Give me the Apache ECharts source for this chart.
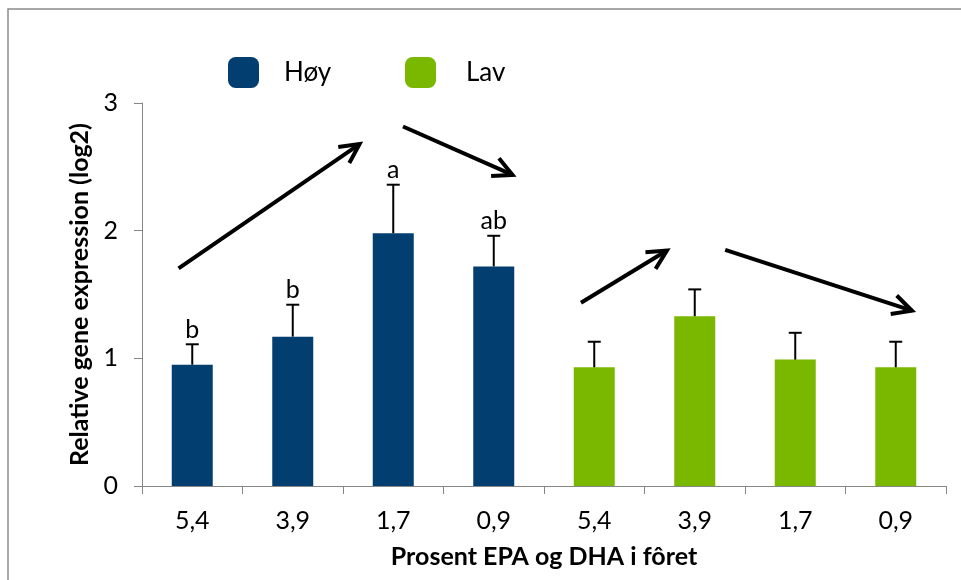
<!DOCTYPE html>
<html>
<head>
<meta charset="utf-8">
<script src="https://cdn.jsdelivr.net/npm/echarts@6/dist/echarts.min.js"></script>
<style>
html,body{margin:0;padding:0;background:#fff;}
#chart{width:961px;height:580px;}
</style>
</head>
<body>
<div id="chart"></div>
<script>
// ---- data ----
const categories = ['5,4', '3,9', '1,7', '0,9', '5,4', '3,9', '1,7', '0,9'];
const seriesNames = ['Høy', 'Lav'];
const hoyValues = [0.95, 1.17, 1.98, 1.72, '-', '-', '-', '-'];
const lavValues = ['-', '-', '-', '-', 0.93, 1.33, 0.99, 0.93];
const hoyErrors = [0.16, 0.25, 0.38, 0.24];
const lavErrors = [0.20, 0.21, 0.21, 0.20];
const sigLetters = ['b', 'b', 'a', 'ab', '', '', '', ''];
// trend arrows: [xStart, yStart, xEnd, yEnd] in (category index, value) units
const trendArrows = [
  [-0.136, 1.705, 1.665, 2.678],
  [2.097, 2.816, 3.187, 2.437],
  [3.868, 1.436, 4.723, 1.844],
  [5.303, 1.849, 7.161, 1.373]
];
const yTicks = { min: 0, max: 3, interval: 1 };

// ---- build ----
const means = categories.map((c, i) => i < 4 ? hoyValues[i] : lavValues[i]);
const errs = hoyErrors.concat(lavErrors);
const errData = means.map((m, i) => [i, m, errs[i]]);

const FONT = 'Lato';
const axisGray = '#868686';
const blue = '#023f70';
const green = '#7ab800';

const chart = echarts.init(document.getElementById('chart'), null, { renderer: 'canvas' });
chart.setOption({
  backgroundColor: '#ffffff',
  animation: false,
  textStyle: { fontFamily: FONT },
  graphic: [{
    type: 'rect', z: -10, silent: true,
    shape: { x: 8, y: 9, width: 1000, height: 1000 },
    style: { fill: 'none', stroke: '#8c8c8c', lineWidth: 1.5 }
  }],
  legend: [
    { data: [seriesNames[0]], left: 223, top: 52, itemWidth: 31, itemHeight: 31, icon: 'roundRect',
      textStyle: { fontFamily: FONT, fontSize: 26, color: '#000', padding: [0, 0, 0, 20] } },
    { data: [seriesNames[1]], left: 400, top: 52, itemWidth: 31, itemHeight: 31, icon: 'roundRect',
      textStyle: { fontFamily: FONT, fontSize: 26, color: '#000', padding: [0, 0, 0, 25] } }
  ],
  grid: { left: 142, right: 15, top: 103, bottom: 94, containLabel: false },
  xAxis: [{
    type: 'category',
    data: categories,
    axisLine: { lineStyle: { color: axisGray, width: 1 } },
    axisTick: { show: true, length: 8, lineStyle: { color: axisGray } },
    axisLabel: { color: '#000', fontSize: 25, margin: 22, fontFamily: FONT },
    name: 'Prosent EPA og DHA i fôret',
    nameLocation: 'middle',
    nameGap: 58,
    nameTextStyle: { color: '#000', fontSize: 25, fontWeight: 'bold', fontFamily: FONT }
  }, {
    type: 'value', show: false, min: -0.5, max: 7.5
  }],
  yAxis: {
    type: 'value',
    min: yTicks.min, max: yTicks.max, interval: yTicks.interval,
    splitLine: { show: false },
    axisLine: { show: true, onZero: false, lineStyle: { color: axisGray, width: 1 } },
    axisTick: { show: true, length: 8, lineStyle: { color: axisGray } },
    axisLabel: { color: '#000', fontSize: 25, margin: 24, fontFamily: FONT },
    name: 'Relative gene expression (log2)',
    nameLocation: 'middle',
    nameGap: 50,
    nameTextStyle: { color: '#000', fontSize: 25, fontWeight: 'bold', fontFamily: FONT }
  },
  series: [
    { name: seriesNames[0], type: 'bar', data: hoyValues, barWidth: 41, barGap: '-100%',
      itemStyle: { color: blue } },
    { name: seriesNames[1], type: 'bar', data: lavValues, barWidth: 41, barGap: '-100%',
      itemStyle: { color: green } },
    {
      type: 'custom', name: 'err', data: errData, z: 5,
      encode: { x: 0, y: 1 },
      renderItem: function (params, api) {
        const x = api.value(0), m = api.value(1), e = api.value(2);
        const p0 = api.coord([x, m]);
        const p1 = api.coord([x, m + e]);
        const children = [
          { type: 'line', shape: { x1: p0[0], y1: p0[1], x2: p1[0], y2: p1[1] },
            style: { stroke: '#000', lineWidth: 2 } },
          { type: 'line', shape: { x1: p1[0] - 6.5, y1: p1[1], x2: p1[0] + 6.5, y2: p1[1] },
            style: { stroke: '#000', lineWidth: 2 } }
        ];
        const letter = sigLetters[params.dataIndex];
        if (letter) {
          children.push({ type: 'text', style: { text: letter, x: p1[0], y: p1[1] - 2,
            textAlign: 'center', textVerticalAlign: 'bottom', fill: '#000',
            font: '25px ' + FONT } });
        }
        return { type: 'group', children: children };
      }
    },
    {
      type: 'custom', name: 'arrows', xAxisIndex: 1, data: trendArrows, z: 6, clip: false,
      encode: { x: [0, 2], y: [1, 3] },
      renderItem: function (params, api) {
        const a = api.coord([api.value(0), api.value(1)]);
        const b = api.coord([api.value(2), api.value(3)]);
        const ang = Math.atan2(a[1] - b[1], a[0] - b[0]);
        const L = 21.5, w = 27 * Math.PI / 180;
        const w1 = [b[0] + L * Math.cos(ang + w), b[1] + L * Math.sin(ang + w)];
        const w2 = [b[0] + L * Math.cos(ang - w), b[1] + L * Math.sin(ang - w)];
        const st = { stroke: '#000', lineWidth: 4, fill: 'none', lineCap: 'butt', lineJoin: 'miter' };
        return { type: 'group', children: [
          { type: 'line', shape: { x1: a[0], y1: a[1], x2: b[0], y2: b[1] }, style: st },
          { type: 'polyline', shape: { points: [w1, b, w2] }, style: st }
        ] };
      }
    }
  ]
});
</script>
</body>
</html>
